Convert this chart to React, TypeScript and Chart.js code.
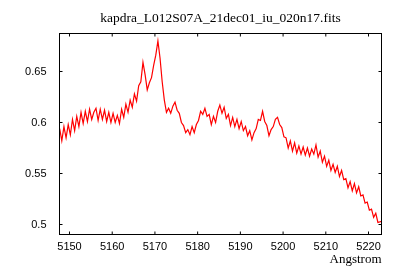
import { useEffect, useRef } from 'react';
import { Chart, registerables } from 'chart.js';

Chart.register(...registerables);

const TITLE = 'kapdra_L012S07A_21dec01_iu_020n17.fits';
const X_LABEL = 'Angstrom';

const WAVELENGTH = [
  5147.7, 5148.2, 5148.7, 5149.2, 5149.7, 5150.2, 5150.7, 5151.2, 5151.7, 5152.2,
  5152.7, 5153.2, 5153.7, 5154.2, 5154.7, 5155.2, 5155.7, 5156.2, 5156.7, 5157.2,
  5157.7, 5158.2, 5158.7, 5159.2, 5159.7, 5160.2, 5160.7, 5161.2, 5161.7, 5162.2,
  5162.7, 5163.2, 5163.7, 5164.2, 5164.7, 5165.2, 5165.7, 5166.2, 5166.7, 5167.2,
  5167.7, 5168.2, 5168.7, 5169.2, 5169.7, 5170.2, 5170.7, 5171.2, 5171.7, 5172.2,
  5172.7, 5173.2, 5173.7, 5174.2, 5174.7, 5175.2, 5175.7, 5176.2, 5176.7, 5177.2,
  5177.7, 5178.2, 5178.7, 5179.2, 5179.7, 5180.2, 5180.7, 5181.2, 5181.7, 5182.2,
  5182.7, 5183.2, 5183.7, 5184.2, 5184.7, 5185.2, 5185.7, 5186.2, 5186.7, 5187.2,
  5187.7, 5188.2, 5188.7, 5189.2, 5189.7, 5190.2, 5190.7, 5191.2, 5191.7, 5192.2,
  5192.7, 5193.2, 5193.7, 5194.2, 5194.7, 5195.2, 5195.7, 5196.2, 5196.7, 5197.2,
  5197.7, 5198.2, 5198.7, 5199.2, 5199.7, 5200.2, 5200.7, 5201.2, 5201.7, 5202.2,
  5202.7, 5203.2, 5203.7, 5204.2, 5204.7, 5205.2, 5205.7, 5206.2, 5206.7, 5207.2,
  5207.7, 5208.2, 5208.7, 5209.2, 5209.7, 5210.2, 5210.7, 5211.2, 5211.7, 5212.2,
  5212.7, 5213.2, 5213.7, 5214.2, 5214.7, 5215.2, 5215.7, 5216.2, 5216.7, 5217.2,
  5217.7, 5218.2, 5218.7, 5219.2, 5219.7, 5220.2, 5220.7, 5221.2, 5221.7, 5222.2, 5223.0,
];

const FLUX = [
  0.594, 0.582, 0.596, 0.585, 0.598, 0.588, 0.603, 0.592, 0.606, 0.596,
  0.610, 0.599, 0.611, 0.601, 0.613, 0.603, 0.610, 0.614, 0.602, 0.613,
  0.603, 0.612, 0.601, 0.610, 0.600, 0.609, 0.600, 0.607, 0.599, 0.613,
  0.605, 0.618, 0.610, 0.622, 0.615, 0.628, 0.621, 0.636, 0.640, 0.659,
  0.647, 0.632, 0.639, 0.644, 0.656, 0.666, 0.680, 0.663, 0.640, 0.622,
  0.610, 0.614, 0.609, 0.616, 0.620, 0.612, 0.609, 0.600, 0.597, 0.590,
  0.593, 0.588, 0.596, 0.590, 0.598, 0.602, 0.611, 0.608, 0.614, 0.606,
  0.608, 0.598, 0.606, 0.600, 0.611, 0.617, 0.609, 0.615, 0.604, 0.608,
  0.597, 0.605, 0.596, 0.603, 0.594, 0.601, 0.592, 0.596, 0.587, 0.592,
  0.583, 0.590, 0.594, 0.603, 0.602, 0.611, 0.601, 0.597, 0.587, 0.593,
  0.596, 0.603, 0.605, 0.598, 0.595, 0.586, 0.585, 0.575, 0.582, 0.572,
  0.580, 0.570, 0.577, 0.569, 0.576, 0.568, 0.575, 0.567, 0.574, 0.569,
  0.578, 0.566, 0.572, 0.561, 0.567, 0.557, 0.563, 0.553, 0.559, 0.551,
  0.557, 0.547, 0.553, 0.544, 0.545, 0.536, 0.542, 0.533, 0.540, 0.531,
  0.537, 0.528, 0.529, 0.521, 0.522, 0.514, 0.515, 0.507, 0.511, 0.502, 0.503,
];

const X_TICKS = [5150, 5160, 5170, 5180, 5190, 5200, 5210, 5220];
const Y_TICKS = [0.5, 0.55, 0.6, 0.65];

const X_MIN = 5147.66;
const X_MAX = 5223.04;
const Y_MIN = 0.4902;
const Y_MAX = 0.68725;
const TICK_LEN = 3;

const framePlugin = {
  id: 'gnuplotFrame',
  afterDatasetsDraw(chart: any) {
    const { ctx, chartArea, scales } = chart;
    const { left, right, top, bottom } = chartArea;
    ctx.save();
    ctx.strokeStyle = '#000';
    ctx.lineWidth = 1;
    ctx.strokeRect(left, top, right - left, bottom - top);
    ctx.beginPath();
    scales.x.ticks.forEach((t: any) => {
      const px = scales.x.getPixelForValue(t.value);
      ctx.moveTo(px, bottom);
      ctx.lineTo(px, bottom - TICK_LEN);
      ctx.moveTo(px, top);
      ctx.lineTo(px, top + TICK_LEN);
    });
    scales.y.ticks.forEach((t: any) => {
      const py = scales.y.getPixelForValue(t.value);
      ctx.moveTo(left, py);
      ctx.lineTo(left + TICK_LEN, py);
      ctx.moveTo(right, py);
      ctx.lineTo(right - TICK_LEN, py);
    });
    ctx.stroke();
    ctx.restore();
  },
};

export default function App() {
  const canvasRef = useRef<HTMLCanvasElement | null>(null);

  useEffect(() => {
    if (!canvasRef.current) return;
    const points = WAVELENGTH.map((w, i) => ({ x: w, y: FLUX[i] }));
    const tickFont = { family: 'Liberation Sans', size: 11 };
    const chart = new Chart(canvasRef.current, {
      type: 'line',
      data: {
        datasets: [
          {
            data: points,
            borderColor: '#ff0000',
            borderWidth: 1.2,
            pointRadius: 0,
            tension: 0,
            fill: false,
          },
        ],
      },
      options: {
        animation: false,
        responsive: false,
        devicePixelRatio: 1,
        layout: { padding: { left: 0, right: 18.5, top: 0, bottom: 0 } },
        plugins: {
          legend: { display: false },
          tooltip: { enabled: false },
          title: {
            display: true,
            text: TITLE,
            fullSize: false,
            color: '#000',
            font: { family: 'Liberation Serif', size: 13.5, weight: 'normal' },
            padding: { top: 10.6, bottom: 6.7 },
          },
        },
        scales: {
          x: {
            type: 'linear',
            min: X_MIN,
            max: X_MAX,
            grid: { display: false, drawTicks: false },
            border: { display: false },
            afterBuildTicks: (scale: any) => {
              scale.ticks = X_TICKS.map((v) => ({ value: v }));
            },
            afterFit: (scale: any) => {
              scale.height = 45.5;
            },
            ticks: {
              color: '#000',
              font: tickFont,
              padding: 6,
              maxRotation: 0,
              autoSkip: false,
              callback: (v: any) => String(v),
            },
            title: {
              display: true,
              text: X_LABEL,
              align: 'end',
              color: '#000',
              font: { family: 'Liberation Serif', size: 13 },
              padding: { top: 0, bottom: 12.2 },
            },
          },
          y: {
            type: 'linear',
            min: Y_MIN,
            max: Y_MAX,
            grid: { display: false, drawTicks: false },
            border: { display: false },
            afterBuildTicks: (scale: any) => {
              scale.ticks = Y_TICKS.map((v) => ({ value: v }));
            },
            afterFit: (scale: any) => {
              scale.width = 59.5;
            },
            ticks: {
              color: '#000',
              font: tickFont,
              padding: 13,
              autoSkip: false,
              callback: (v: any) => String(v),
            },
          },
        },
      },
      plugins: [framePlugin],
    } as any);
    return () => chart.destroy();
  }, []);

  return (
    <div style={{ position: 'fixed', left: 0, top: 0, width: 400, height: 280, background: '#fff' }}>
      <canvas ref={canvasRef} width={400} height={280} />
    </div>
  );
}
